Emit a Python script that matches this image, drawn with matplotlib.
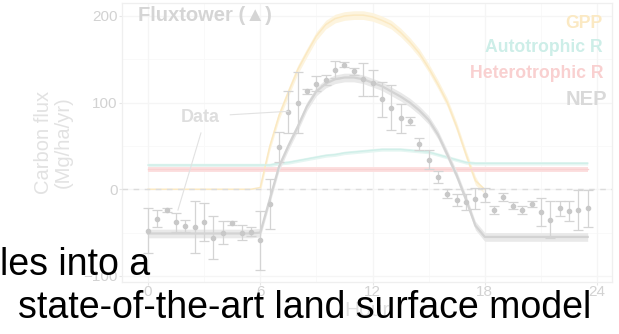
import numpy as np
import matplotlib
matplotlib.use("Agg")
import matplotlib.pyplot as plt

# Half-hourly time axis (hours of the day)
hours = np.arange(0, 24, 0.5)

# Observed net ecosystem production at the flux tower (mean and error)
obs_nep = [-48, -34, -24, -38, -42, -44, -38, -56, -50, -39, -50, -49,
           -59, -17, 49, 89, 100, 113, 122, 126, 138, 144, 136, 127,
           123, 104, 94, 82, 79, 52, 34, 14, -5, -12, -15, -11, -7, -24,
           -9, -19, -24, -17, -26, -35, -22, -25, -24, -22]
obs_err = [26, 10, 2, 11, 7, 30, 22, 25, 13, 2, 9, 5,
           34, 29, 17, 24, 35, 3, 9, 6, 10, 3, 4, 19,
           15, 20, 26, 17, 5, 7, 11, 7, 5, 7, 9, 12, 8, 5,
           5, 4, 5, 3, 16, 21, 9, 12, 23, 21]

# Modelled fluxes (Mg/ha/yr)
gpp_model = [0] * 12 + [2, 49, 85, 112, 138, 158, 177, 190, 197, 200, 201, 201,
                        199, 195, 190, 181, 170, 157, 140, 121, 100, 72, 40, 10,
                        0] + [np.nan] * 11
ra_model = [28] * 14 + [30, 31, 33, 35, 37, 39, 40, 42, 43, 44, 45, 46, 46, 46,
                        45, 44, 43, 40, 37, 34, 31, 30] + [30] * 12
rh_model = [23] * 48
nep_model = [-51] * 12 + [-50, -12, 26, 50, 72, 96, 113, 122, 127, 129, 129, 127,
                          123, 119, 113, 107, 100, 91, 80, 63, 40, 16, -12, -42,
                          -55] + [-55] * 11

series_labels = ["GPP", "Autotrophic R", "Heterotrophic R", "NEP"]
x_ticks = [0, 6, 12, 18, 24]
y_ticks = [-100, 0, 100, 200]

plt.rcParams['font.family'] = ['Liberation Sans', 'DejaVu Sans']

W, H = 619, 334
fig = plt.figure(figsize=(W / 100, H / 100), dpi=100)
ax = fig.add_axes([122 / W, 1 - 282 / H, (612 - 122) / W, (282 - 3) / H])

ax.set_xlim(-1.39, 24.8)
ax.set_ylim(-107, 215)
for v in [3, 9, 15, 21]:
    ax.axvline(v, color="#f9f9f9", lw=0.6, zorder=0)
for v in [-50, 50, 150]:
    ax.axhline(v, color="#f9f9f9", lw=0.6, zorder=0)
for v in x_ticks:
    ax.axvline(v, color="#f5f5f5", lw=0.9, zorder=0)
for v in y_ticks:
    ax.axhline(v, color="#f5f5f5", lw=0.9, zorder=0)

h = hours
gpp = np.array(gpp_model, dtype=float)
ra = np.array(ra_model, dtype=float)
rh = np.array(rh_model, dtype=float)
nep = np.array(nep_model, dtype=float)

day = np.nan_to_num(gpp) > 0
ax.fill_between(h, gpp - 5, gpp + 5, where=day, interpolate=True,
                color="#fdf4de", lw=0, zorder=2)
ax.plot(h, gpp, color="#fbe9c2", lw=1.1, zorder=3)
ax.fill_between(h, ra - 2, ra + 2, color="#e5f6f2", lw=0, zorder=2)
ax.plot(h, ra, color="#d0efe9", lw=1.0, zorder=3)
ax.fill_between(h, rh - 3, rh + 3, color="#fcdfdf", lw=0, zorder=2)
ax.plot(h, rh, color="#f9d2d2", lw=1.0, zorder=3)

ax.axhline(0, color="#dcdcdc", lw=1.0, ls=(0, (4, 4)), zorder=3.5)

ax.fill_between(h, nep - 5, nep + 5, color="#e9e9e9", lw=0, zorder=4)
ax.plot(h, nep, color="#d3d3d3", lw=1.6, zorder=5)

ax.errorbar(h, obs_nep, yerr=obs_err, fmt="o", ms=3.0, color="#c8c8c8",
            ecolor="#d4d4d4", elinewidth=0.9, capsize=3.5, capthick=0.9, zorder=6)

# Panel styling
for s in ax.spines.values():
    s.set_color("#efefef")
    s.set_linewidth(0.9)
ax.set_xticks(x_ticks)
ax.set_yticks(y_ticks)
ax.tick_params(colors="#e6e6e6", labelcolor="#d2d2d2", labelsize=11,
               length=2, width=0.8, pad=1)
ax.tick_params(axis="x", pad=0.5)
ax.set_xlabel("Hour", color="#e0e0e0", fontsize=15, labelpad=1)
ax.set_ylabel("Carbon flux\n(Mg/ha/yr)", color="#e2e2e2", fontsize=14.5,
              labelpad=8, linespacing=1.0)

ax.text(0.032, 0.955, "Fluxtower (\u25B2)", transform=ax.transAxes, ha="left",
        va="center", fontsize=14.5, fontweight="bold", color="#d5d5d5")

legend_colors = ["#fbe9c3", "#cdeee8", "#f9d0d0", "#d9d9d9"]
legend_y = [24, 48, 74, 100]
legend_sizes = [12.7, 12.7, 12.7, 14.5]
for lab, c, yy, fs in zip(series_labels, legend_colors, legend_y, legend_sizes):
    fig.text(603 / W if lab != "NEP" else 607 / W, 1 - yy / H, lab, ha="right",
             va="center", fontsize=fs, fontweight="bold", color=c)

# "Data" callout pointing at two observations
ax.text(2.78, 82.6, "Data", ha="center", va="center", fontsize=13,
        fontweight="bold", color="#dedede", zorder=7)
ax.plot([4.4, 7.5], [86, 90], color="#e2e2e2", lw=0.8, zorder=7)
ax.plot([2.83, 1.6], [65, -24], color="#e2e2e2", lw=0.8, zorder=7)

# Slide text laid over the chart
fig.text(0 / W, 1 - 275 / H, "les into a", ha="left", va="baseline",
         fontsize=27, color="black", family="Liberation Sans")
fig.text(18 / W, 1 - 318 / H, "state-of-the-art land surface model", ha="left",
         va="baseline", fontsize=27, color="black", family="Liberation Sans")

fig.savefig("out.png", dpi=100)
